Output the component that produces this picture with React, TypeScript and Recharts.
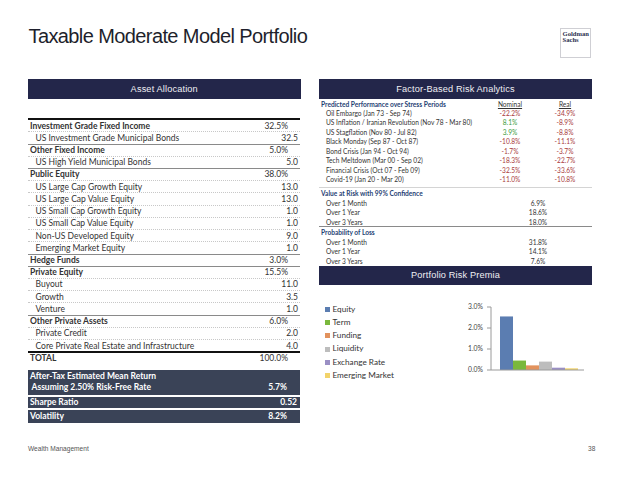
import React from "react";
import { BarChart, Bar, XAxis, YAxis } from "recharts";

// ---------- Data ----------
const allocationLabels = [
  "Investment Grade Fixed Income",
  "US Investment Grade Municipal Bonds",
  "Other Fixed Income",
  "US High Yield Municipal Bonds",
  "Public Equity",
  "US Large Cap Growth Equity",
  "US Large Cap Value Equity",
  "US Small Cap Growth Equity",
  "US Small Cap Value Equity",
  "Non-US Developed Equity",
  "Emerging Market Equity",
  "Hedge Funds",
  "Private Equity",
  "Buyout",
  "Growth",
  "Venture",
  "Other Private Assets",
  "Private Credit",
  "Core Private Real Estate and Infrastructure",
  "TOTAL",
];
const allocationValues = [
  "32.5%", "32.5", "5.0%", "5.0", "38.0%", "13.0", "13.0", "1.0", "1.0", "9.0",
  "1.0", "3.0%", "15.5%", "11.0", "3.5", "1.0", "6.0%", "2.0", "4.0", "100.0%",
];
// 0 = asset class, 1 = sub-asset, 2 = total
const allocationLevels = [0, 1, 0, 1, 0, 1, 1, 1, 1, 1, 1, 0, 0, 1, 1, 1, 0, 1, 1, 2];

const summaryLabels = [
  ["After-Tax Estimated Mean Return", "Assuming 2.50% Risk-Free Rate"],
  ["Sharpe Ratio"],
  ["Volatility"],
];
const summaryValues = ["5.7%", "0.52", "8.2%"];

const stressLabels = [
  "Oil Embargo (Jan 73 - Sep 74)",
  "US Inflation / Iranian Revolution (Nov 78 - Mar 80)",
  "US Stagflation (Nov 80 - Jul 82)",
  "Black Monday (Sep 87 - Oct 87)",
  "Bond Crisis (Jan 94 - Oct 94)",
  "Tech Meltdown (Mar 00 - Sep 02)",
  "Financial Crisis (Oct 07 - Feb 09)",
  "Covid-19 (Jan 20 - Mar 20)",
];
const stressNominal = ["-22.2%", "8.1%", "3.9%", "-10.8%", "-1.7%", "-18.3%", "-32.5%", "-11.0%"];
const stressReal = ["-34.9%", "-8.9%", "-8.8%", "-11.1%", "-3.7%", "-22.7%", "-33.6%", "-10.8%"];

const horizonLabels = ["Over 1 Month", "Over 1 Year", "Over 3 Years"];
const varValues = ["6.9%", "18.6%", "18.0%"];
const lossValues = ["31.8%", "14.1%", "7.6%"];

const premiaFactors = ["Equity", "Term", "Funding", "Liquidity", "Exchange Rate", "Emerging Market"];
const premiaValues = [0.0255, 0.0045, 0.0022, 0.004, 0.0011, 0.0008];
const premiaColors = ["#5b7db1", "#7ab83c", "#e2925d", "#bdbdbd", "#9a8fc4", "#f2d36a"];
const premiaTicks = [0, 0.01, 0.02, 0.03];

// ---------- Styles ----------
const FONT = "Lato, 'Noto Sans', sans-serif";
const HEAD_FONT = "'Liberation Sans', Arial, sans-serif";
const NAVY = "#23264a";
const SLATE = "#3a4357";
const TEXT = "#333";
const BLUE_TXT = "#1f3f74";
const RED = "#a83a3a";
const GREEN = "#3a9b3a";

const ROW_TOP = 119.6;
const ROW_H = 12.22;

const premiaRow = [
  premiaFactors.reduce((acc: any, f, i) => {
    acc["s" + i] = premiaValues[i];
    return acc;
  }, { name: "" } as any),
];

function Header({ left, top, width, text }: { left: number; top: number; width: number; text: string }) {
  return (
    <div
      style={{
        position: "absolute",
        left,
        top,
        width,
        height: 19.5,
        background: NAVY,
        color: "#f0f0f4",
        fontFamily: HEAD_FONT,
        fontSize: 9.2,
        display: "flex",
        alignItems: "center",
        justifyContent: "center",
        letterSpacing: 0.15,
      }}
    >
      {text}
    </div>
  );
}

export default function App() {
  const rightRow = (y: number) => y - 5;
  return (
    <div
      style={{
        position: "absolute",
        left: 0,
        top: 0,
        width: 620,
        height: 479,
        background: "#fff",
        overflow: "hidden",
        fontFamily: FONT,
      }}
    >
      {/* Title */}
      <div
        style={{
          position: "absolute",
          left: 28.5,
          top: 24,
          fontFamily: HEAD_FONT,
          fontSize: 20,
          letterSpacing: -0.6,
          color: "#1e1f2c",
          lineHeight: "24px",
          whiteSpace: "nowrap",
        }}
      >
        Taxable Moderate Model Portfolio
      </div>

      {/* Logo */}
      <div
        style={{
          position: "absolute",
          left: 560,
          top: 28,
          width: 31,
          height: 30,
          border: "1px solid #cfcfd4",
          fontFamily: "'Liberation Serif', 'DejaVu Serif', serif",
          fontWeight: 700,
          fontSize: 6.6,
          lineHeight: "6.4px",
          color: "#2b3050",
          paddingLeft: 1.5,
          paddingTop: 1.5,
          boxSizing: "border-box",
        }}
      >
        Goldman
        <br />
        Sachs
      </div>

      <Header left={28} top={79.3} width={272.5} text="Asset Allocation" />
      <Header left={319} top={79.3} width={273} text="Factor-Based Risk Analytics" />
      <Header left={319} top={265.5} width={273} text="Portfolio Risk Premia" />

      {/* Asset allocation table */}
      <div style={{ position: "absolute", left: 28, top: 118.2, width: 272, height: 1.8, background: "#111" }} />
      {allocationLabels.map((label, i) => {
        const level = allocationLevels[i];
        const top = ROW_TOP + i * ROW_H;
        const next = allocationLevels[i + 1];
        const isGroupEnd = level === 1 && next !== 1 && next !== undefined;
        const beforeTotal = next === 2;
        const groupEndCat = level === 0 && next === 0;
        let line: React.ReactNode = null;
        if (beforeTotal) {
          line = <div style={{ position: "absolute", left: 0, right: 0, bottom: -1, height: 1.8, background: "#111" }} />;
        } else if (isGroupEnd || groupEndCat) {
          line = <div style={{ position: "absolute", left: 0, right: 0, bottom: -0.5, height: 1, background: "#8a8a8a" }} />;
        } else if (level !== 2) {
          line = (
            <div
              style={{ position: "absolute", left: 0, right: 0, bottom: -0.5, height: 0, borderBottom: "1px dotted #c8c8c8" }}
            />
          );
        }
        return (
          <div
            key={i}
            style={{
              position: "absolute",
              left: 28,
              top,
              width: 272,
              height: ROW_H,
              lineHeight: ROW_H + "px",
              fontSize: 8.5,
              color: TEXT,
              fontWeight: level === 1 ? 400 : 700,
              whiteSpace: "nowrap",
            }}
          >
            <span style={{ position: "absolute", left: level === 1 ? 7.5 : 2 }}>{label}</span>
            <span style={{ position: "absolute", right: level === 1 ? 2 : 12, fontWeight: 400 }}>
              {allocationValues[i]}
            </span>
            {line}
          </div>
        );
      })}

      {/* Summary boxes */}
      {summaryLabels.map((lines, i) => {
        const tops = [369.5, 396.7, 409.5];
        const heights = [25.5, 11, 13];
        return (
          <div
            key={i}
            style={{
              position: "absolute",
              left: 28,
              top: tops[i],
              width: 272,
              height: heights[i],
              background: SLATE,
              color: "#fff",
              fontSize: 8.5,
              fontWeight: 700,
              whiteSpace: "nowrap",
            }}
          >
            {lines.map((l, j) => (
              <div
                key={j}
                style={{
                  position: "absolute",
                  left: j === 1 ? 3.5 : 2,
                  top: lines.length === 2 ? 1 + j * 11.6 : 0,
                  lineHeight: (lines.length === 2 ? 11.6 : heights[i]) + "px",
                }}
              >
                {l}
              </div>
            ))}
            <div
              style={{
                position: "absolute",
                right: i === 1 ? 3 : 13,
                top: lines.length === 2 ? 12.6 : 0,
                lineHeight: (lines.length === 2 ? 11.6 : heights[i]) + "px",
              }}
            >
              {summaryValues[i]}
            </div>
          </div>
        );
      })}

      {/* Factor-based risk analytics */}
      <div style={{ position: "absolute", left: 0, top: 0, fontSize: 6.6, color: TEXT, whiteSpace: "nowrap" }}>
        <div style={{ position: "absolute", left: 321, top: rightRow(104), lineHeight: "10px", color: BLUE_TXT, fontWeight: 700 }}>
          Predicted Performance over Stress Periods
        </div>
        <div style={{ position: "absolute", left: 490, width: 40, textAlign: "center", top: rightRow(104), lineHeight: "10px", textDecoration: "underline" }}>
          Nominal
        </div>
        <div style={{ position: "absolute", left: 545, width: 40, textAlign: "center", top: rightRow(104), lineHeight: "10px", textDecoration: "underline" }}>
          Real
        </div>
        {stressLabels.map((l, i) => {
          const y = rightRow(112.7 + i * 9.47);
          const nom = stressNominal[i];
          const re = stressReal[i];
          return (
            <React.Fragment key={i}>
              <div style={{ position: "absolute", left: 326, top: y, lineHeight: "10px" }}>{l}</div>
              <div style={{ position: "absolute", left: 490, width: 40, textAlign: "center", top: y, lineHeight: "10px", color: nom.startsWith("-") ? RED : GREEN }}>
                {nom}
              </div>
              <div style={{ position: "absolute", left: 545, width: 40, textAlign: "center", top: y, lineHeight: "10px", color: re.startsWith("-") ? RED : GREEN }}>
                {re}
              </div>
            </React.Fragment>
          );
        })}
        <div style={{ position: "absolute", left: 319, width: 273, top: 186.8, height: 0, borderTop: "1px solid #d4d4d4" }} />
        <div style={{ position: "absolute", left: 321, top: rightRow(192.7), lineHeight: "10px", color: BLUE_TXT, fontWeight: 700 }}>
          Value at Risk with 99% Confidence
        </div>
        {horizonLabels.map((l, i) => {
          const y = rightRow(202.7 + i * 9.65);
          return (
            <React.Fragment key={i}>
              <div style={{ position: "absolute", left: 326, top: y, lineHeight: "10px" }}>{l}</div>
              <div style={{ position: "absolute", left: 518, width: 40, textAlign: "center", top: y, lineHeight: "10px" }}>{varValues[i]}</div>
            </React.Fragment>
          );
        })}
        <div style={{ position: "absolute", left: 319, width: 273, top: 226.3, height: 0, borderTop: "1px solid #8a8a8a" }} />
        <div style={{ position: "absolute", left: 321, top: rightRow(232), lineHeight: "10px", color: BLUE_TXT, fontWeight: 700 }}>
          Probability of Loss
        </div>
        {horizonLabels.map((l, i) => {
          const y = rightRow(241.7 + i * 9.65);
          return (
            <React.Fragment key={i}>
              <div style={{ position: "absolute", left: 326, top: y, lineHeight: "10px" }}>{l}</div>
              <div style={{ position: "absolute", left: 518, width: 40, textAlign: "center", top: y, lineHeight: "10px" }}>{lossValues[i]}</div>
            </React.Fragment>
          );
        })}
      </div>

      {/* Portfolio Risk Premia legend */}
      <div style={{ position: "absolute", left: 325, top: 302.6, fontFamily: FONT, fontSize: 8.2, color: TEXT, whiteSpace: "nowrap" }}>
        {premiaFactors.map((f, i) => (
          <div key={f} style={{ height: 13.3, lineHeight: "13.3px", display: "flex", alignItems: "center" }}>
            <span style={{ display: "inline-block", width: 5, height: 5, background: premiaColors[i], marginRight: 2.5 }} />
            <span>{f}</span>
          </div>
        ))}
      </div>

      {/* Portfolio Risk Premia chart */}
      <div style={{ position: "absolute", left: 451, top: 295 }}>
        <BarChart
          width={139}
          height={90}
          data={premiaRow}
          margin={{ top: 12, right: 6, bottom: 0, left: 0 }}
          barGap={0}
          barCategoryGap={9}
        >
          <XAxis dataKey="name" tick={false} tickLine={false} axisLine={{ stroke: "#9a9a9a" }} height={15} />
          <YAxis
            domain={[0, 0.03]}
            ticks={premiaTicks}
            tickFormatter={(v: number) => (v * 100).toFixed(1) + "%"}
            tick={{ fontSize: 6.8, fill: "#444", fontFamily: FONT }}
            tickLine={{ stroke: "#9a9a9a" }}
            axisLine={{ stroke: "#9a9a9a" }}
            tickSize={4}
            tickMargin={4}
            width={40}
            interval={0}
          />
          {premiaFactors.map((f, i) => (
            <Bar key={f} dataKey={"s" + i} name={f} fill={premiaColors[i]} isAnimationActive={false} />
          ))}
        </BarChart>
      </div>

      {/* Footer */}
      <div style={{ position: "absolute", left: 28, top: 444, fontFamily: HEAD_FONT, fontSize: 6.6, color: "#555", lineHeight: "10px" }}>
        Wealth Management
      </div>
      <div style={{ position: "absolute", left: 588, top: 444, fontFamily: HEAD_FONT, fontSize: 6.6, color: "#555", lineHeight: "10px" }}>
        38
      </div>
    </div>
  );
}
